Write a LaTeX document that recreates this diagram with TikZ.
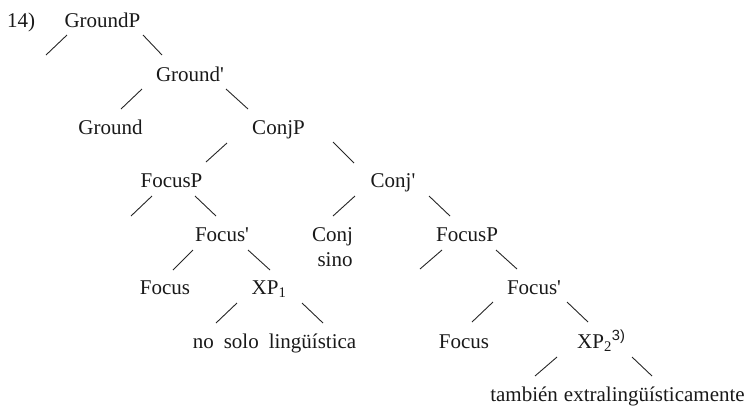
\documentclass[tikz,border=0pt]{standalone}
\usepackage{fontspec}
\setmainfont{Liberation Serif}
\newfontfamily\supfont{Liberation Sans}
\usetikzlibrary{calc}
\begin{document}
\begin{tikzpicture}[x=1pt,y=-1pt,
  lbl/.style={anchor=base,inner sep=0pt,font=\fontsize{21}{25}\selectfont,text=black!90},
  branch/.style={line width=0.9pt,draw=black!85}]
\useasboundingbox (0,0) rectangle (746,408);
% nodes
\node[lbl] (n14) at (21,27) {14)};
\node[lbl] (GP) at (102.5,27) {GroundP};
\node[lbl] (GB) at (190,81) {Ground\textquotesingle};
\node[lbl] (G0) at (110.5,134) {Ground};
\node[lbl] (CP) at (278.5,134) {ConjP};
\node[lbl] (FP1) at (171.5,187) {FocusP};
\node[lbl] (CB) at (393,187) {Conj\textquotesingle};
\node[lbl] (FB1) at (222,241) {Focus\textquotesingle};
\node[lbl] (Cj) at (332.5,241) {Conj};
\node[lbl] (sino) at (335,266) {sino};
\node[lbl] (FP2) at (467,241) {FocusP};
\node[lbl] (F1) at (165,294) {Focus};
\node[lbl] (XP1) at (269,294) {XP\textsubscript{1}};
\node[lbl] (FB2) at (534,294) {Focus\textquotesingle};
\node[lbl] (F2) at (464,348) {Focus};
\node[lbl,anchor=base west] (XP2) at (577,348) {XP\textsubscript{2}\textsuperscript{\supfont 3)}};
\node[lbl] (W1) at (274.5,348) {no\hspace{10pt}solo\hspace{10pt}lingüística};
\node[lbl] (W2) at (617.5,401) {también\hspace{6pt}extralingüísticamente};
% branches
\draw[branch] ($(GP.base)+(-35.5,8)$) -- ++(-21,20);
\draw[branch] ($(GP.base)+(40.5,8)$) -- ($(GB.base)+(-28,-26)$);
\draw[branch] ($(GB.base)+(-48,8)$) -- ($(G0.base)+(10.5,-25)$);
\draw[branch] ($(GB.base)+(36,8)$) -- ($(CP.base)+(-30.5,-25)$);
\draw[branch] ($(CP.base)+(-51.5,9)$) -- ($(FP1.base)+(34.5,-25)$);
\draw[branch] ($(CP.base)+(54.5,8)$) -- ($(CB.base)+(-39,-24)$);
\draw[branch] ($(FP1.base)+(-19.5,9)$) -- ++(-21,20);
\draw[branch] ($(FP1.base)+(23.5,9)$) -- ($(FB1.base)+(-6,-25)$);
\draw[branch] ($(CB.base)+(-38,9)$) -- ($(Cj.base)+(0.5,-25)$);
\draw[branch] ($(CB.base)+(36,9)$) -- ($(FP2.base)+(-17,-25)$);
\draw[branch] ($(FB1.base)+(-29,9)$) -- ($(F1.base)+(8,-24)$);
\draw[branch] ($(FB1.base)+(26,9)$) -- ($(XP1.base)+(1,-24)$);
\draw[branch] ($(FP2.base)+(-25,9)$) -- ++(-22,19);
\draw[branch] ($(FP2.base)+(29,9)$) -- ($(FB2.base)+(-17,-25)$);
\draw[branch] ($(FB2.base)+(-41,8)$) -- ($(F2.base)+(8,-26)$);
\draw[branch] ($(FB2.base)+(33,8)$) -- ($(XP2.base west)+(11,-26)$);
\draw[branch] ($(XP1.base)+(-32,9)$) -- ($(W1.base)+(-58.5,-25)$);
\draw[branch] ($(XP1.base)+(33,9)$) -- ($(W1.base)+(48.5,-25)$);
\draw[branch] ($(XP2.base west)+(-20,9)$) -- ($(W2.base)+(-82.5,-25)$);
\draw[branch] ($(XP2.base west)+(55,9)$) -- ($(W2.base)+(34.5,-25)$);
\end{tikzpicture}
\end{document}
